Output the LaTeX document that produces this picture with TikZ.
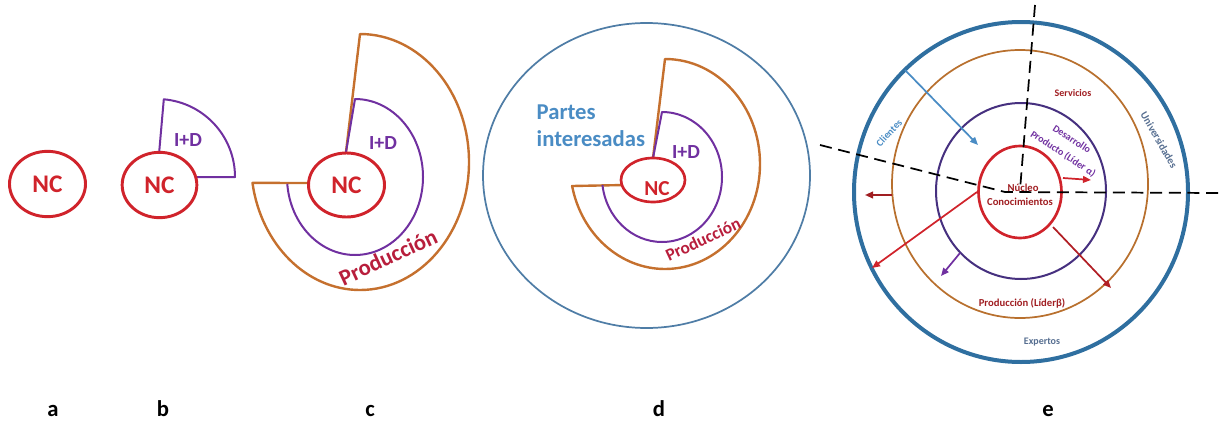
\documentclass[tikz,border=0pt]{standalone}
\usepackage{fontspec}
\setmainfont{Carlito}
\usetikzlibrary{arrows.meta,shapes.geometric}
\definecolor{ncred}{HTML}{D0232B}
\definecolor{idpurple}{HTML}{7030A0}
\definecolor{prodorange}{HTML}{C5702E}
\definecolor{prodtext}{HTML}{B81E3C}
\definecolor{partesblue}{HTML}{4A8CC4}
\definecolor{dcircle}{HTML}{4F7DA6}
\definecolor{eouter}{HTML}{2F6FA0}
\definecolor{epurple}{HTML}{46307F}
\definecolor{eorange}{HTML}{B8702E}
\definecolor{darkred}{HTML}{A01E22}
\definecolor{graytext}{HTML}{566E90}
\begin{document}
\begin{tikzpicture}[x=0.75pt,y=-0.75pt,font=\bfseries,
  ncell/.style={draw=ncred,line width=2.2pt,fill=white,ellipse,inner sep=0pt,text=ncred},
  idline/.style={draw=idpurple,line width=1.5pt,line join=round},
  prodline/.style={draw=prodorange,line width=1.8pt,line join=round},
  idtext/.style={text=idpurple,font=\bfseries\fontsize{15}{15}\selectfont},
  nctext/.style={font=\bfseries\fontsize{19}{19}\selectfont},
  letter/.style={font=\bfseries\fontsize{17}{17}\selectfont,text=black,inner sep=0pt,anchor=base},
  earrow/.style={line width=1.3pt,-{Triangle[length=6pt,width=5pt]}},
  small/.style={font=\bfseries\fontsize{7.5}{8}\selectfont,inner sep=1pt}
]
\useasboundingbox (0,0) rectangle (1220,421);

% ---------- panel a ----------
\node[ncell,nctext,minimum width=57pt,minimum height=49pt] (nca) at (47.5,184) {NC};

% ---------- panel b ----------
\draw[idline] (157,177) -- (163.8,99.3) arc[start angle=-85,end angle=0,radius=78] -- cycle;
\node[ncell,nctext,minimum width=56pt,minimum height=49pt] (ncb) at (159.5,185) {NC};
\node[idtext] (idb) at (188,140) {I+D};

% ---------- panel c ----------
\draw[prodline] (346,152) -- (360,34) arc[start angle=-90,end angle=170.6,x radius=109,y radius=128] -- (312,183);
\draw[idline] (346,152) -- (355,99) arc[start angle=-90,end angle=175,x radius=68,y radius=78];
\node[ncell,nctext,minimum width=57pt,minimum height=48pt] (ncc) at (346.5,185) {NC};
\node[idtext] (idc) at (383,143) {I+D};
\node[text=prodtext,rotate=25,font=\bfseries\fontsize{17}{17}\selectfont] (prc) at (388,257) {Producción};

% ---------- panel d ----------
\draw[dcircle,line width=1.3pt] (646.5,175.5) ellipse [x radius=163.5,y radius=152.5];
\draw[prodline] (653,158) -- (665,59) arc[start angle=-90,end angle=167.9,x radius=95,y radius=105] -- (625,185);
\draw[idline] (653,158) -- (662,112) arc[start angle=-90,end angle=173,x radius=60,y radius=65];
\node[ncell,minimum width=48pt,minimum height=33pt,line width=2pt] (ncd) at (653,180) {};
\node[text=ncred,font=\bfseries\fontsize{16}{16}\selectfont] (ncdt) at (657,189) {NC};
\node[idtext] (idd) at (686,152) {I+D};
\node[text=prodtext,rotate=25,font=\bfseries\fontsize{13}{13}\selectfont] (prd) at (703,239) {Producción};
\node[text=partesblue,anchor=west,font=\bfseries\fontsize{17}{17}\selectfont] (pa1) at (532,112) {Partes};
\node[text=partesblue,anchor=west,font=\bfseries\fontsize{17}{17}\selectfont] (pa2) at (532,139) {interesadas};

% ---------- panel e ----------
\draw[eouter,line width=3pt] (1021,192) ellipse [x radius=167,y radius=170];
\draw[eorange,line width=1.3pt] (1020,184) ellipse [x radius=128,y radius=134];
\draw[epurple,line width=1.5pt] (1021,191) ellipse [x radius=85,y radius=88];
\draw[ncred,line width=2pt] (1020,192) ellipse [x radius=41.5,y radius=46];

\coordinate (d1) at (820,145);
\coordinate (d2) at (1005,192);
\coordinate (d3) at (1220,193);
\coordinate (v1) at (1035,5);
\coordinate (v2) at (1020,190);
\draw[black,line width=1.3pt,dash pattern=on 9pt off 5pt] (d1) -- (d2) -- (d3);
\draw[black,line width=1.3pt,dash pattern=on 9pt off 5pt] (v1) -- (v2);

\coordinate (b1) at (905,70);   \coordinate (b2) at (978,145);
\coordinate (r1) at (1063,178); \coordinate (r2) at (1091,180);
\coordinate (l1) at (892,195);  \coordinate (l2) at (865,195);
\coordinate (s1) at (977,192);  \coordinate (s2) at (872,268);
\coordinate (t1) at (1053,227); \coordinate (t2) at (1111,288);
\coordinate (p1) at (960,253);  \coordinate (p2) at (941,276);
\draw[earrow,partesblue] (b1) -- (b2);
\draw[earrow,ncred] (r1) -- (r2);
\draw[earrow,darkred] (l1) -- (l2);
\draw[earrow,ncred] (s1) -- (s2);
\draw[earrow,ncred!85!black] (t1) -- (t2);
\draw[earrow,idpurple] (p1) -- (p2);

\node[small,text=darkred] (serv) at (1073,93) {Servicios};
\node[small,text=graytext,rotate=-60,font=\bfseries\fontsize{8}{8}\selectfont] (univ) at (1159,140) {Universidades};
\node[small,text=partesblue,rotate=47] (cli) at (889,133) {Clientes};
\node[small,text=idpurple,rotate=-33] (des1) at (1072,139) {Desarrollo};
\node[small,text=idpurple,rotate=-33] (des2) at (1063,154) {Producto (Líder α)};
\node[small,text=darkred,font=\bfseries\fontsize{8}{8}\selectfont] (nuc) at (1023,188) {Núcleo};
\node[small,text=darkred,font=\bfseries\fontsize{8}{8}\selectfont] (con) at (1020,202) {Conocimientos};
\node[small,text=darkred,font=\bfseries\fontsize{8}{8}\selectfont] (pre) at (1022,303) {Producción (Líderβ)};
\node[small,text=graytext] (exp) at (1042,342) {Expertos};

% ---------- letters ----------
\node[letter] (la) at (53,416) {a};
\node[letter] (lb) at (163,416) {b};
\node[letter] (lc) at (370,416) {c};
\node[letter] (ld) at (659,416) {d};
\node[letter] (le) at (1048,416) {e};
\end{tikzpicture}
\end{document}
